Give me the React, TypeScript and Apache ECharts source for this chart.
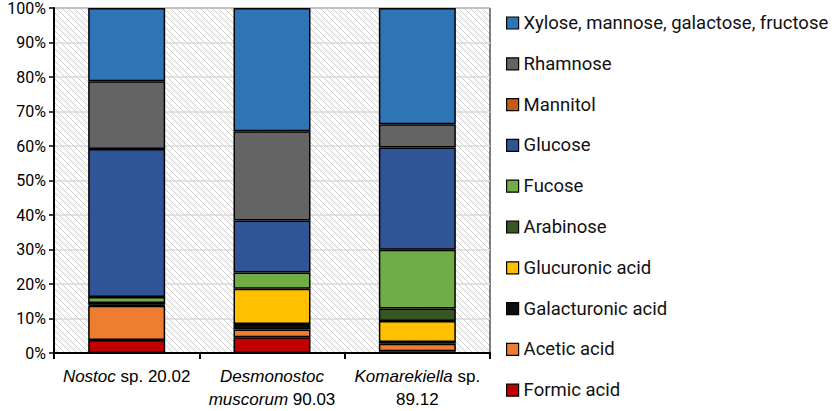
import React, { useEffect, useRef } from "react";
import * as echarts from "echarts";

const categories = ["Nostoc sp. 20.02", "Desmonostoc muscorum 90.03", "Komarekiella sp. 89.12"];
const categoryLabels = [
  "{i|Nostoc} sp. 20.02",
  "{i|Desmonostoc}\n{i|muscorum} 90.03",
  "{i|Komarekiella} sp.\n89.12",
];

// stacking order: bottom to top
const formicAcid = [3.8, 4.6, 0.5];
const aceticAcid = [9.9, 2.2, 2.2];
const galacturonicAcid = [0.3, 1.6, 0.5];
const glucuronicAcid = [0.5, 10.2, 6.1];
const arabinose = [0, 0, 3.6];
const fucose = [1.7, 4.7, 17.0];
const glucose = [42.9, 15.1, 29.7];
const mannitol = [0, 0, 0];
const rhamnose = [19.7, 25.9, 6.7];
const xylose = [21.2, 35.7, 33.7];

const seriesDefs = [
  { name: "Formic acid", data: formicAcid, color: "#C00000" },
  { name: "Acetic acid", data: aceticAcid, color: "#ED7D31" },
  { name: "Galacturonic acid", data: galacturonicAcid, color: "#0D0D0D" },
  { name: "Glucuronic acid", data: glucuronicAcid, color: "#FFC000" },
  { name: "Arabinose", data: arabinose, color: "#375623" },
  { name: "Fucose", data: fucose, color: "#70AD47" },
  { name: "Glucose", data: glucose, color: "#2F5597" },
  { name: "Mannitol", data: mannitol, color: "#C55A11" },
  { name: "Rhamnose", data: rhamnose, color: "#646464" },
  { name: "Xylose, mannose, galactose, fructose", data: xylose, color: "#2E75B6" },
];

const yTicks = [0, 10, 20, 30, 40, 50, 60, 70, 80, 90, 100];

const hatchSvg =
  "<svg xmlns='http://www.w3.org/2000/svg' width='6' height='6'>" +
  "<path d='M0 0L6 6M-1 5L1 7M5 -1L7 1' stroke='#cccccc' stroke-width='1'/></svg>";

export default function App() {
  const ref = useRef<HTMLDivElement>(null);
  useEffect(() => {
    document.body.style.margin = "0";
    const chart = echarts.init(ref.current!, null, { renderer: "svg" });
    const legendNames = seriesDefs.map((s) => s.name).reverse();
    chart.setOption({
      animation: false,
      backgroundColor: "#ffffff",
      grid: {
        left: 54,
        right: 347,
        top: 7,
        bottom: 54,
        show: true,
        backgroundColor: {
          image: "data:image/svg+xml;charset=utf-8," + encodeURIComponent(hatchSvg),
          repeat: "repeat",
          imageWidth: 6,
          imageHeight: 6,
        },
        borderColor: "#000",
        borderWidth: 1,
      },
      legend: {
        orient: "vertical",
        left: 501,
        top: 8,
        data: legendNames,
        itemWidth: 12,
        itemHeight: 12,
        itemGap: 20.8,
        icon: "rect",
        textStyle: {
          fontFamily: "Roboto",
          fontSize: 18.5,
          color: "#111",
          lineHeight: 20,
        },
        itemStyle: { borderColor: "#000", borderWidth: 1.2 },
      },
      xAxis: {
        type: "category",
        data: categories,
        axisLine: { lineStyle: { color: "#000", width: 2 } },
        axisTick: { show: true, length: 6, lineStyle: { color: "#000", width: 2 } },
        axisLabel: {
          interval: 0,
          margin: 12,
          color: "#000",
          fontFamily: "Liberation Sans",
          fontSize: 17,
          lineHeight: 23,
          formatter: (_v: string, idx: number) => categoryLabels[idx],
          rich: {
            i: {
              fontStyle: "italic",
              fontFamily: "Liberation Sans",
              fontSize: 17,
              lineHeight: 23,
              color: "#000",
            },
          },
        },
      },
      yAxis: {
        type: "value",
        min: yTicks[0],
        max: yTicks[yTicks.length - 1],
        interval: 10,
        axisLine: { show: true, lineStyle: { color: "#000", width: 2 } },
        axisTick: { show: true, length: 5, lineStyle: { color: "#000", width: 1.5 } },
        axisLabel: {
          formatter: "{value}%",
          color: "#000",
          fontFamily: "Roboto",
          fontSize: 16,
          margin: 8,
        },
        splitLine: { show: true, lineStyle: { color: "#d9d9d9", width: 1.5 } },
      },
      series: seriesDefs.map((s) => ({
        type: "bar",
        name: s.name,
        stack: "total",
        data: s.data.map((v) => (v === 0 ? "-" : v)),
        barWidth: 77,
        itemStyle: { color: s.color, borderColor: "#000", borderWidth: 1.5 },
      })),
    });
    return () => chart.dispose();
  }, []);
  return <div ref={ref} style={{ width: 837, height: 411 }} />;
}
